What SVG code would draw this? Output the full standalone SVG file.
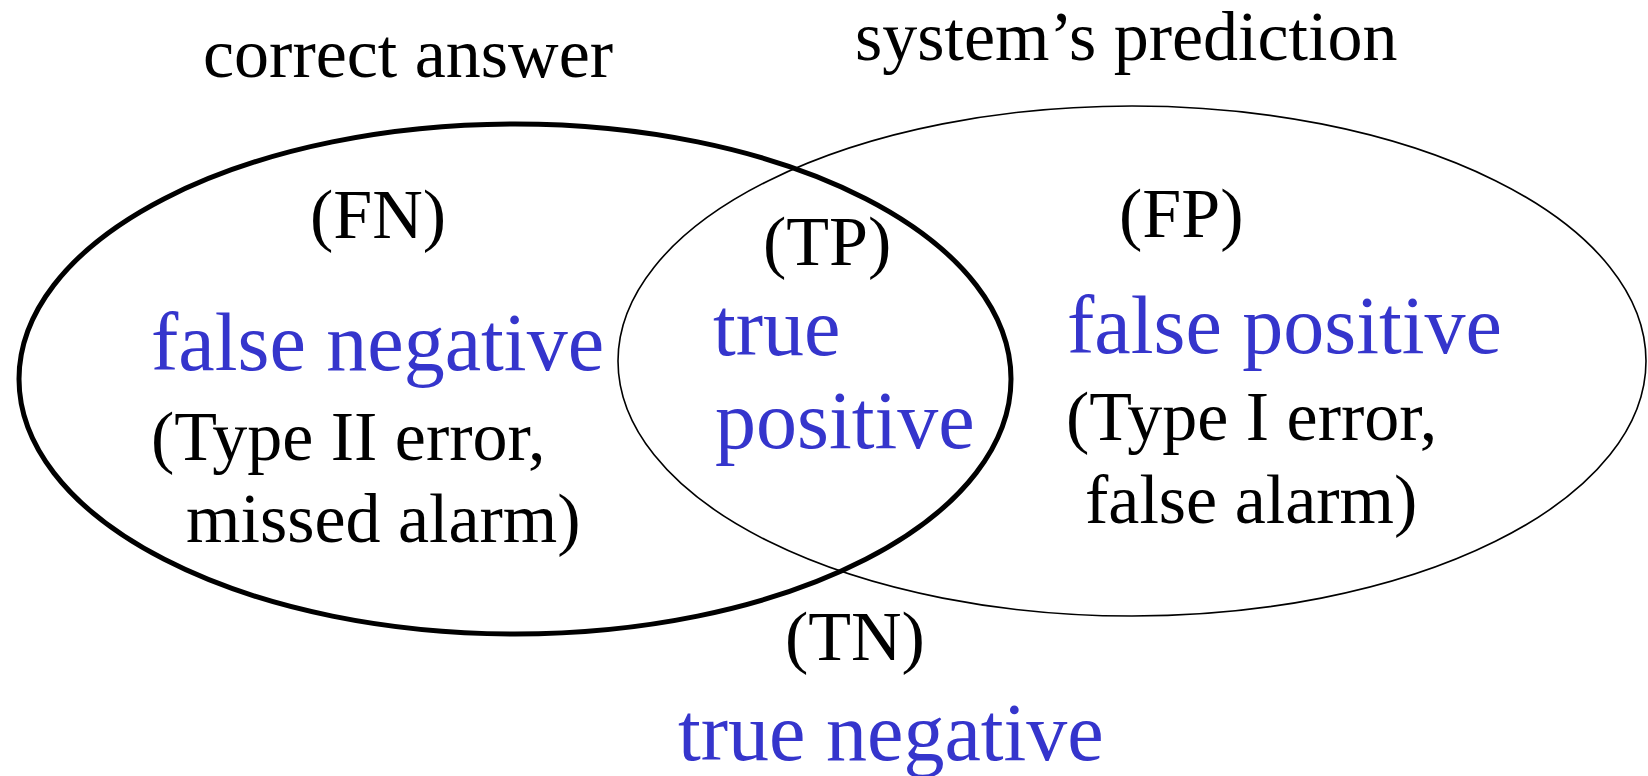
<svg xmlns="http://www.w3.org/2000/svg" width="1648" height="776" viewBox="0 0 1648 776">
<style>
.t{font-family:"Liberation Serif","Times New Roman",serif;font-size:70px;fill:#000}
.b{font-family:"Liberation Serif","Times New Roman",serif;font-size:82px;fill:#3535cc}
.e{fill:none;stroke:#000}
</style>
<rect width="1648" height="776" fill="#fff"/>
<g id="connectors"></g>
<g id="correct-answer">
<ellipse class="e" cx="515" cy="379" rx="496" ry="255" stroke-width="5"/>
<text class="t" x="203" y="77">correct answer</text>
</g>
<g id="system-prediction">
<ellipse class="e" cx="1132" cy="361" rx="514" ry="255" stroke-width="1.6"/>
<text class="t" x="855" y="60">system’s prediction</text>
</g>
<g id="fn">
<text class="t" x="310" y="238">(FN)</text>
<text class="b" x="151" y="370">false negative</text>
<text class="t" x="151" y="460">(Type II error,</text>
<text class="t" x="186" y="542">missed alarm)</text>
</g>
<g id="tp">
<text class="t" x="763" y="265">(TP)</text>
<text class="b" x="713" y="355">true</text>
<text class="b" x="715" y="448">positive</text>
</g>
<g id="fp">
<text class="t" x="1119" y="237">(FP)</text>
<text class="b" x="1067" y="353">false positive</text>
<text class="t" x="1066" y="440">(Type I error,</text>
<text class="t" x="1085" y="523">false alarm)</text>
</g>
<g id="tn">
<text class="t" x="785" y="660">(TN)</text>
<text class="b" x="678" y="760">true negative</text>
</g>
</svg>
